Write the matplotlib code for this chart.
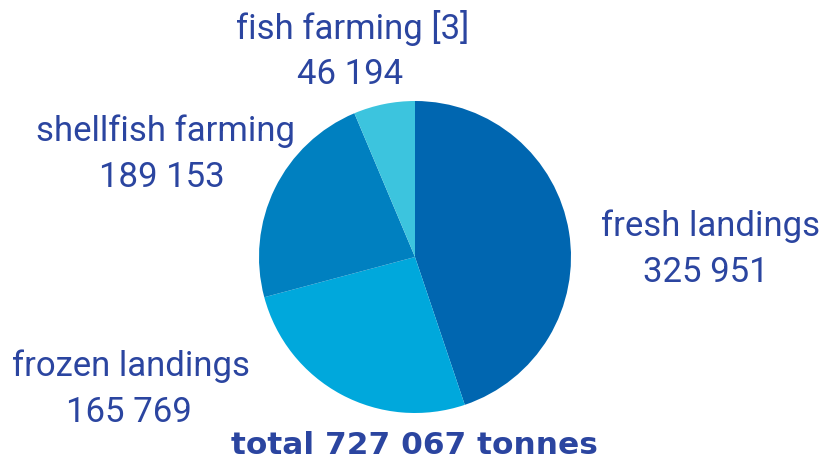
import matplotlib.pyplot as plt

# slices in the order they are drawn clockwise from 12 o'clock
categories = ['fresh landings', 'shellfish farming', 'frozen landings', 'fish farming [3]']
values = [325951, 189153, 165769, 46194]
colors = ['#0066b0', '#00a8dc', '#0080c0', '#3cc4de']
total_label = 'total 727 067 tonnes'

text_color = '#2b45a0'

W, H = 825, 461
fig = plt.figure(figsize=[W / 100, H / 100], dpi=100, facecolor='white')

# pie centre and radius in pixels
cx, cy, r = 415, 257, 156
ax = fig.add_axes([(cx - r) / W, 1 - (cy + r) / H, 2 * r / W, 2 * r / H])
ax.pie(values, colors=colors, startangle=90, counterclock=False,
       wedgeprops={'linewidth': 0})
ax.set_xlim(-1, 1)
ax.set_ylim(-1, 1)
ax.set_aspect('equal')
ax.axis('off')


def fmt(v):
    return f'{v:,}'.replace(',', ' ')


# label placement in pixels: (name x, name baseline, value x, value baseline)
label_pos = {
    'fresh landings': (711, 236, 706, 282),
    'frozen landings': (131, 376, 129, 422),
    'shellfish farming': (166, 141, 162, 187),
    'fish farming [3]': (353, 39, 350, 84),
}
for name, v in zip(categories, values):
    x1, y1, x2, y2 = label_pos[name]
    fig.text(x1 / W, 1 - y1 / H, name, ha='center', va='baseline',
             fontsize=25, color=text_color, family='Roboto')
    fig.text(x2 / W, 1 - y2 / H, fmt(v), ha='center', va='baseline',
             fontsize=25, color=text_color, family='Roboto')

fig.text(414 / W, 1 - 454 / H, total_label, ha='center', va='baseline',
         fontsize=22.5, color=text_color, family='DejaVu Sans', fontweight='bold')

fig.savefig('out.png', dpi=100)
